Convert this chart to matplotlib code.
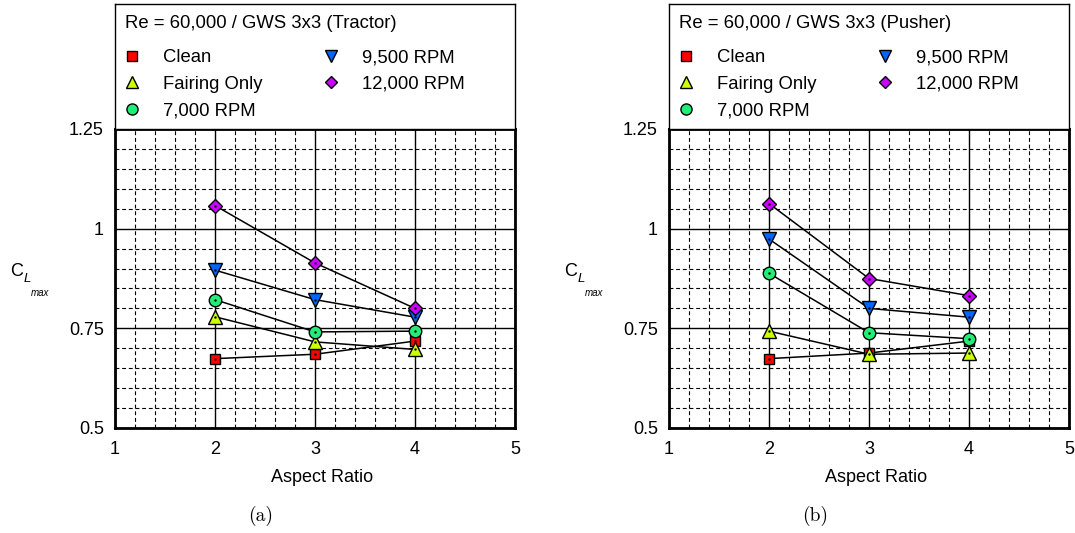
import matplotlib
matplotlib.use("Agg")
import matplotlib.pyplot as plt
from matplotlib.lines import Line2D
from matplotlib.ticker import MultipleLocator

plt.rcParams['font.family'] = ['Liberation Sans', 'DejaVu Sans']

# datos
aspect = [2, 3, 4]
series = ["Clean", "Fairing Only", "7,000 RPM", "9,500 RPM", "12,000 RPM"]

tractor_clean = [0.674, 0.685, 0.718]
tractor_fairing = [0.779, 0.716, 0.697]
tractor_7000 = [0.822, 0.741, 0.743]
tractor_9500 = [0.896, 0.822, 0.778]
tractor_12000 = [1.058, 0.914, 0.800]

pusher_clean = [0.674, 0.688, 0.718]
pusher_fairing = [0.743, 0.685, 0.688]
pusher_7000 = [0.888, 0.739, 0.724]
pusher_9500 = [0.974, 0.800, 0.778]
pusher_12000 = [1.063, 0.875, 0.832]

titulos = ["Re = 60,000 / GWS 3x3 (Tractor)", "Re = 60,000 / GWS 3x3 (Pusher)"]
captions = ["(a)", "(b)"]
xticks = [1, 2, 3, 4, 5]
yticks = [0.5, 0.75, 1.0, 1.25]
yticklabels = ["0.5", "0.75", "1", "1.25"]

marcadores = ["s", "^", "o", "v", "D"]
colores = ["#ff0000", "#ccff00", "#22ee77", "#0066ff", "#cc00ff"]
tam = [7, 10, 9, 10, 7.5]
tam_leg = [6.5, 8.5, 8, 8.5, 6.5]

W, H = 1075, 533
fig = plt.figure(figsize=(W / 100, H / 100), dpi=100)

datos = [[tractor_clean, tractor_fairing, tractor_7000, tractor_9500, tractor_12000],
         [pusher_clean, pusher_fairing, pusher_7000, pusher_9500, pusher_12000]]
izq = [115, 669]

for k in range(2):
    x0 = izq[k]
    ax = fig.add_axes([x0 / W, 1 - 428 / H, 400 / W, 299 / H])
    axl = fig.add_axes([x0 / W, 1 - 129 / H, 400 / W, 125 / H])

    for i in range(5):
        ax.plot(aspect, datos[k][i], color="k", lw=1.1, zorder=3)
    for i in range(5):
        ax.plot(aspect, datos[k][i], ls="none", marker=marcadores[i], ms=tam[i],
                mfc=colores[i], mec="k", mew=1.0, zorder=4 + i * 0.1)
        ax.plot(aspect, datos[k][i], ls="none", marker=".", ms=1.5, color="k", zorder=4 + i * 0.1 + 0.05)

    ax.set_xlim(1, 5)
    ax.set_ylim(0.5, 1.25)
    ax.set_xticks(xticks)
    ax.set_xticklabels([str(t) for t in xticks])
    ax.set_yticks(yticks)
    ax.set_yticklabels(yticklabels)
    ax.xaxis.set_minor_locator(MultipleLocator(0.2))
    ax.yaxis.set_minor_locator(MultipleLocator(0.05))
    ax.grid(which="major", color="k", lw=1.0, ls="-", zorder=1)
    ax.grid(which="minor", color="k", lw=0.8, ls=(0, (3.5, 2.5)), zorder=1)
    ax.set_axisbelow(True)
    ax.tick_params(which="both", length=0, labelsize=13)
    ax.tick_params(axis="x", pad=9)
    ax.tick_params(axis="y", pad=8)
    for s in ax.spines.values():
        s.set_linewidth(2)

    ax.set_xlabel("Aspect Ratio", fontsize=13)
    ax.xaxis.set_label_coords(0.5175, -0.137)

    # C_L max, en tres piezas como el original
    ax.text(-105 / 400, (428 - 271) / 299, "C", transform=ax.transAxes, fontsize=13,
            ha="left", va="center")
    ax.text(-91 / 400, (428 - 279) / 299, "L", transform=ax.transAxes, fontsize=9.5,
            style="italic", ha="left", va="center")
    ax.text(-84 / 400, (428 - 293) / 299, "max", transform=ax.transAxes, fontsize=7,
            style="italic", ha="left", va="center")

    # caja de la leyenda
    axl.set_xticks([])
    axl.set_yticks([])
    for s in axl.spines.values():
        s.set_linewidth(1)
    axl.text(10 / 400, (129 - 23) / 125, titulos[k], transform=axl.transAxes,
             fontsize=13.3, ha="left", va="center")
    handles = [Line2D([], [], ls="none", marker=marcadores[i], ms=tam_leg[i],
                      mfc=colores[i], mec="k", mew=1.0) for i in range(5)]
    axl.legend(handles, series, loc="upper left", bbox_to_anchor=(0.005, 0.713),
               ncol=2, frameon=False, fontsize=13.3,
               borderpad=0, handlelength=0.6, handletextpad=1.4,
               columnspacing=3.4, labelspacing=0.52)

    fig.text((x0 + 146) / W, 1 - 516 / H, captions[k], fontsize=14, family="cmr10",
             ha="center", va="center")

fig.savefig("out.png", dpi=100)
